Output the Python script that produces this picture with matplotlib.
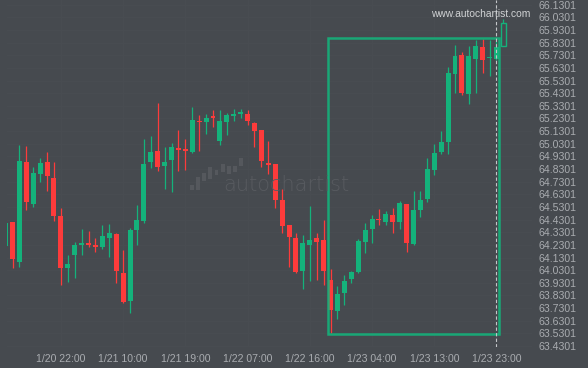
import matplotlib
matplotlib.use("Agg")
import matplotlib.pyplot as plt
from matplotlib.patches import Rectangle
import numpy as np

# ---------------- data ----------------
opens = [64.221, 64.411, 64.095, 64.886, 64.553, 64.791, 64.886, 64.759, 64.459, 64.047,
         64.150, 64.229, 64.237, 64.229, 64.213, 64.285, 64.316, 64.008, 63.786, 64.348,
         64.419, 64.886, 64.973, 64.854, 64.902, 64.997, 64.981, 64.965, 65.210, 65.202,
         65.242, 65.052, 65.202, 65.250, 65.266, 65.266, 65.194, 65.139, 64.878, 64.870,
         64.585, 64.387, 64.285, 64.023, 64.229, 64.285, 64.269, 63.952, 63.707, 63.849,
         63.960, 64.016, 64.253, 64.356, 64.430, 64.411, 64.466, 64.411, 64.553, 64.237,
         64.506, 64.593, 64.822, 64.965, 65.044, 65.582, 65.732, 65.424, 65.701, 65.796,
         65.707, 65.701, 65.804]
highs = [64.403, 64.411, 65.020, 65.012, 64.846, 64.917, 64.965, 64.886, 64.522, 64.150,
         64.253, 64.356, 64.340, 64.285, 64.387, 64.395, 64.324, 64.190, 64.364, 64.546,
         65.068, 65.091, 65.353, 65.004, 65.036, 65.139, 65.068, 65.321, 65.258, 65.266,
         65.297, 65.297, 65.273, 65.305, 65.305, 65.297, 65.202, 65.139, 65.052, 64.870,
         64.672, 64.387, 64.324, 64.308, 64.538, 64.324, 64.427, 64.039, 63.905, 63.992,
         64.023, 64.277, 64.403, 64.466, 64.514, 64.498, 64.522, 64.577, 64.553, 64.656,
         64.656, 64.917, 65.028, 65.131, 65.637, 65.811, 65.756, 65.804, 65.851, 65.859,
         65.851, 65.843, 66.017]
lows = [64.221, 64.047, 64.055, 64.506, 64.530, 64.728, 64.656, 64.419, 63.913, 63.936,
        63.968, 64.150, 64.213, 64.174, 64.198, 64.134, 63.928, 63.770, 63.691, 64.229,
        64.403, 64.838, 64.815, 64.672, 64.648, 64.815, 64.822, 64.957, 64.973, 65.107,
        65.163, 65.020, 65.099, 65.210, 65.234, 65.179, 65.004, 64.846, 64.791, 64.522,
        64.324, 64.055, 64.008, 63.881, 63.944, 63.952, 63.913, 63.533, 63.644, 63.754,
        63.928, 64.008, 64.166, 64.245, 64.387, 64.387, 64.324, 64.356, 64.174, 64.229,
        64.451, 64.569, 64.783, 64.949, 64.949, 65.432, 65.416, 65.345, 65.432, 65.590,
        65.566, 65.693, 65.804]
closes = [64.403, 64.118, 64.894, 64.569, 64.799, 64.878, 64.775, 64.459, 64.047, 64.079,
          64.229, 64.245, 64.229, 64.213, 64.300, 64.324, 64.023, 63.778, 64.348, 64.427,
          64.870, 64.965, 64.846, 64.886, 65.004, 64.981, 64.973, 65.218, 65.202, 65.234,
          65.234, 65.210, 65.258, 65.266, 65.273, 65.210, 65.131, 64.894, 64.862, 64.585,
          64.379, 64.292, 64.016, 64.245, 64.269, 64.253, 64.023, 63.715, 63.841, 63.944,
          64.016, 64.261, 64.348, 64.435, 64.425, 64.474, 64.411, 64.561, 64.245, 64.506,
          64.585, 64.830, 64.957, 65.044, 65.590, 65.724, 65.432, 65.724, 65.804, 65.693,
          65.711, 65.796, 65.985]

x_tick_pos = [8, 17, 26, 35, 44, 53, 62, 71]
x_tick_labels = ["1/20 22:00", "1/21 10:00", "1/21 19:00", "1/22 07:00",
                 "1/22 16:00", "1/23 04:00", "1/23 13:00", "1/23 23:00"]
y_ticks = [63.4301 + 0.1 * k for k in range(28)]
y_tick_labels = [f"{v:.4f}" for v in y_ticks]

box_x = [46.64, 71.43]
box_y = [63.525, 65.867]
current_idx = 71

logo_bottoms = [1, 1, 10, 12, 16, 19, 17, 19, 25]
logo_tops = [6, 14, 18, 24, 21, 27, 25, 25, 33]

# ---------------- style ----------------
BG = "#464a4f"
GREEN = "#14b27b"
RED = "#fd3b3b"
TXT = "#a9acb0"
GRID = "#494d52"

W, H = 588, 368
fig = plt.figure(figsize=(W / 100, H / 100), dpi=100, facecolor=BG)
ax_l, ax_r, ax_t, ax_b = 6.5, 532.0, 0.0, 347.0
ax = fig.add_axes([ax_l / W, 1 - ax_b / H, (ax_r - ax_l) / W, (ax_b - ax_t) / H])
ax.set_facecolor(BG)

n = len(opens)
idx = np.arange(n)
o = np.array(opens); c = np.array(closes); h = np.array(highs); l = np.array(lows)
up = c >= o
body_w = 0.72
min_h = 0.012

for i in range(n):
    col = GREEN if up[i] else RED
    last = (i == n - 1)
    ax.vlines(idx[i], l[i], h[i], color=col, linewidth=0.9, zorder=3)
    bot = min(o[i], c[i])
    ht = max(abs(c[i] - o[i]), min_h)
    if last:
        ax.bar(idx[i], ht, bottom=bot, width=body_w * 0.85, facecolor=BG,
               edgecolor=GREEN, linewidth=1.0, zorder=4)
    else:
        ax.bar(idx[i], ht, bottom=bot, width=body_w, color=col, linewidth=0, zorder=4)

# rectangle pattern box
ax.add_patch(Rectangle((box_x[0], box_y[0]), box_x[1] - box_x[0], box_y[1] - box_y[0],
                       fill=False, edgecolor=GREEN, linewidth=1.8, zorder=5, alpha=0.9))

# current time dashed line
ax.axvline(current_idx, color="#c4c6c9", linewidth=0.8, linestyle=(0, (3, 2)), zorder=6)

# axes ranges: pixel -> data mapping
px0, dpx = 5.586, 6.914
ax.set_xlim((ax_l - px0) / dpx, (ax_r - px0) / dpx)
ax.set_ylim(66.1674 - ax_b * 0.0079114, 66.1674)

ax.set_xticks(x_tick_pos)
ax.set_xticklabels(x_tick_labels)
ax.set_yticks(y_ticks)
ax.set_yticklabels(y_tick_labels)
ax.yaxis.tick_right()
ax.tick_params(axis="both", length=0, colors=TXT, labelsize=7.6)
ax.tick_params(axis="y", pad=4.5)
ax.tick_params(axis="x", pad=5)
for lab in ax.get_xticklabels() + ax.get_yticklabels():
    lab.set_family("Liberation Sans")
ax.grid(True, color=GRID, linewidth=0.7, zorder=0)
for s in ax.spines.values():
    s.set_visible(False)

# watermark
fig.text(223 / W, 1 - 185 / H, "autochartist", color="#585b60", fontsize=15,
         fontweight="light", family="DejaVu Sans", va="center", ha="left")
lax = fig.add_axes([189 / W, 1 - 191 / H, 55 / W, 34 / H])
lax.set_facecolor("none")
lax.bar(np.arange(len(logo_tops)), np.array(logo_tops) - np.array(logo_bottoms),
        bottom=logo_bottoms, width=0.65, color="#55585d")
lax.set_xlim(-0.5, 8.5)
lax.set_ylim(0, 34)
lax.axis("off")

fig.text(431 / W, 1 - 14 / H, "www.autochartist.com", color="#d0d2d4", fontsize=7.4,
         family="Liberation Sans", va="center", ha="left")

fig.savefig("out.png", dpi=100, facecolor=BG)
